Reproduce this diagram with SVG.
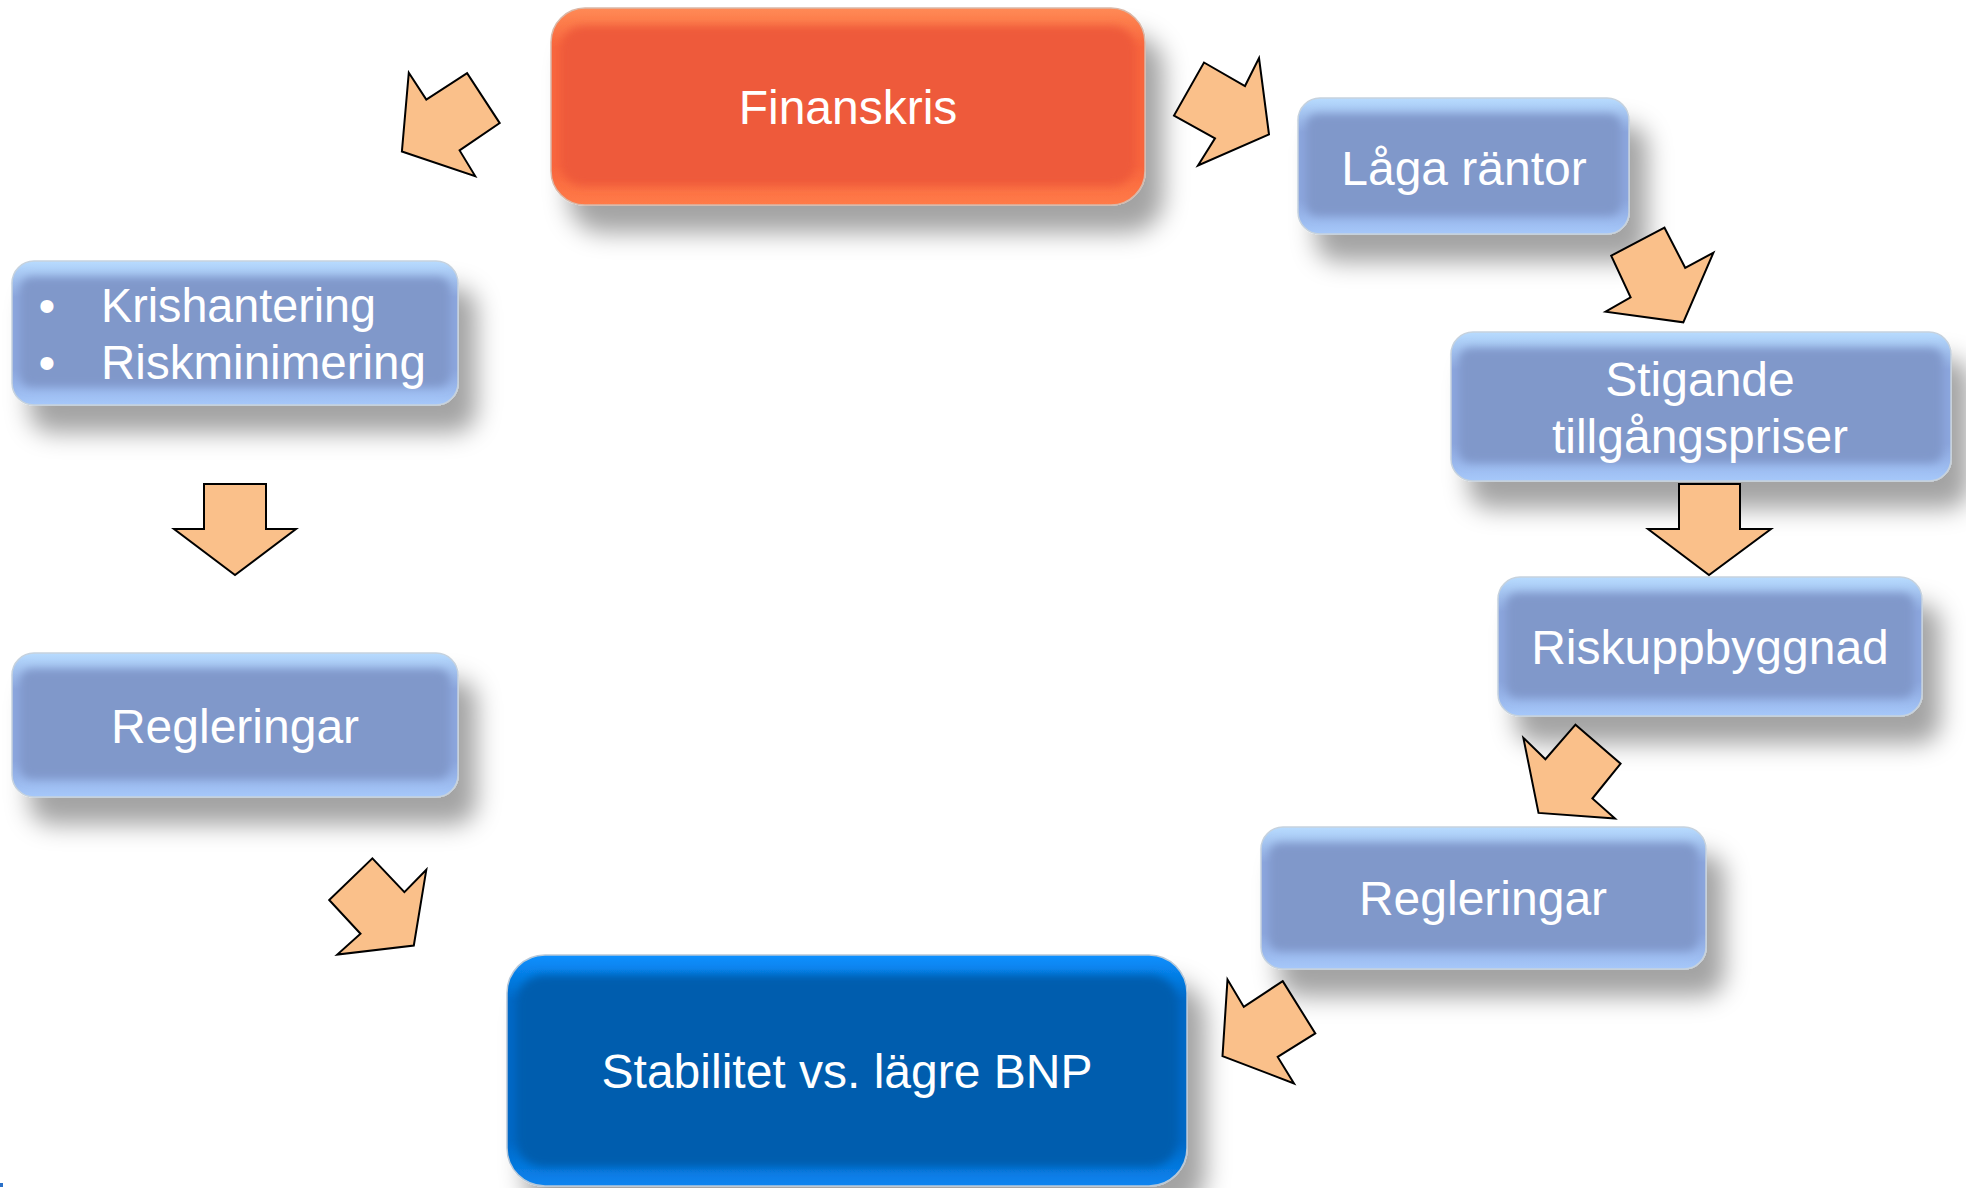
<svg xmlns="http://www.w3.org/2000/svg" width="1966" height="1188" viewBox="0 0 1966 1188">
<style>
  .lbl { font-family: "Liberation Sans", Arial, sans-serif; font-size: 48px; fill: #ffffff; }
  .mid { text-anchor: middle; }
  .arrow { fill: #FAC08A; stroke: #000000; stroke-width: 2; stroke-linejoin: miter; }
  .bluebase { fill: url(#blueEdge); stroke: #c6d2de; stroke-width: 1.5; }
  .bluein { fill: #8098CA; filter: url(#soft); }
  .redbase { fill: url(#redEdge); stroke: #d9b8a8; stroke-width: 1.5; }
  .redin { fill: #EE5A3A; filter: url(#soft); }
  .dkbase { fill: url(#dkEdge); stroke: #b8c8d8; stroke-width: 1.5; }
  .dkin { fill: #005DAE; filter: url(#soft); }
</style>
<defs>
  <filter id="shadow" x="-20%" y="-30%" width="150%" height="180%">
    <feDropShadow dx="18" dy="27" stdDeviation="12" flood-color="#000000" flood-opacity="0.36"/>
  </filter>
  <filter id="soft" x="-10%" y="-10%" width="120%" height="120%">
    <feGaussianBlur stdDeviation="4"/>
  </filter>
  <linearGradient id="blueEdge" x1="0" y1="0" x2="0" y2="1">
    <stop offset="0" stop-color="#B8DCFF"/>
    <stop offset="0.25" stop-color="#8CA6DE"/>
    <stop offset="0.75" stop-color="#8CA6DE"/>
    <stop offset="1" stop-color="#A6C8FA"/>
  </linearGradient>
  <linearGradient id="redEdge" x1="0" y1="0" x2="0" y2="1">
    <stop offset="0" stop-color="#FF8A55"/>
    <stop offset="0.2" stop-color="#F8653D"/>
    <stop offset="0.8" stop-color="#F8653D"/>
    <stop offset="1" stop-color="#FF7B48"/>
  </linearGradient>
  <linearGradient id="dkEdge" x1="0" y1="0" x2="0" y2="1">
    <stop offset="0" stop-color="#0A90FF"/>
    <stop offset="0.2" stop-color="#0068C6"/>
    <stop offset="0.8" stop-color="#0068C6"/>
    <stop offset="1" stop-color="#0A84F0"/>
  </linearGradient>
</defs>
<rect x="0" y="0" width="1966" height="1188" fill="#ffffff"/>

<g id="finanskris">
  <g filter="url(#shadow)"><rect class="redbase" x="551" y="8" width="594" height="197" rx="34"/></g>
  <rect class="redin" x="560" y="26" width="576" height="160" rx="24"/>
  <text class="lbl mid" x="848" y="124">Finanskris</text>
</g>

<g id="laga-rantor">
  <g filter="url(#shadow)"><rect class="bluebase" x="1298" y="98" width="331" height="136" rx="22"/></g>
  <rect class="bluein" x="1306" y="114" width="315" height="102" rx="12"/>
  <text class="lbl mid" x="1464" y="185">Låga räntor</text>
</g>

<g id="stigande">
  <g filter="url(#shadow)"><rect class="bluebase" x="1451" y="332" width="500" height="149" rx="22"/></g>
  <rect class="bluein" x="1459" y="348" width="484" height="115" rx="12"/>
  <text class="lbl mid" x="1700" y="396">Stigande</text>
  <text class="lbl mid" x="1700" y="453">tillgångspriser</text>
</g>

<g id="riskuppbyggnad">
  <g filter="url(#shadow)"><rect class="bluebase" x="1498" y="577" width="424" height="139" rx="22"/></g>
  <rect class="bluein" x="1506" y="593" width="408" height="105" rx="12"/>
  <text class="lbl mid" x="1710" y="664">Riskuppbyggnad</text>
</g>

<g id="regleringar-right">
  <g filter="url(#shadow)"><rect class="bluebase" x="1261" y="827" width="445" height="142" rx="22"/></g>
  <rect class="bluein" x="1269" y="843" width="429" height="108" rx="12"/>
  <text class="lbl mid" x="1483" y="915">Regleringar</text>
</g>

<g id="stabilitet">
  <g filter="url(#shadow)"><rect class="dkbase" x="507" y="955" width="680" height="231" rx="38"/></g>
  <rect class="dkin" x="516" y="975" width="662" height="192" rx="28"/>
  <text class="lbl mid" x="847" y="1088">Stabilitet vs. lägre BNP</text>
</g>

<g id="regleringar-left">
  <g filter="url(#shadow)"><rect class="bluebase" x="12" y="653" width="446" height="144" rx="22"/></g>
  <rect class="bluein" x="20" y="669" width="430" height="110" rx="12"/>
  <text class="lbl mid" x="235" y="743">Regleringar</text>
</g>

<g id="krishantering">
  <g filter="url(#shadow)"><rect class="bluebase" x="12" y="261" width="446" height="144" rx="22"/></g>
  <rect class="bluein" x="20" y="277" width="430" height="110" rx="12"/>
  <text class="lbl mid" x="47" y="322">•</text>
  <text class="lbl" x="101" y="322" textLength="275" lengthAdjust="spacingAndGlyphs">Krishantering</text>
  <text class="lbl mid" x="47" y="379">•</text>
  <text class="lbl" x="101" y="379" textLength="325" lengthAdjust="spacingAndGlyphs">Riskminimering</text>
</g>

<g id="connectors">
  <polygon class="arrow" points="1259,58 1269,134.5 1198,165.5 1215,138.3 1174,115.5 1204,62.5 1245,86"/>
  <polygon class="arrow" points="1664.5,227.7 1685.2,267.8 1713.4,252.7 1683.3,322.3 1605.6,311.7 1630.6,297.3 1611.2,255.7"/>
  <polygon class="arrow" points="1679,484 1740,484 1740,529 1771,529 1709,575 1648,529 1679,529"/>
  <polygon class="arrow" points="1575.5,724.7 1620.6,763.7 1592.4,798.5 1615,818.6 1538.5,812.9 1523.4,737.9 1545.4,759.2"/>
  <polygon class="arrow" points="1282.7,981.1 1315.3,1033.4 1277.7,1056.9 1294,1083.4 1222.5,1056.1 1227.5,979.6 1243.8,1006.9"/>
  <polygon class="arrow" points="372.4,858.4 404.4,892.1 426.3,869.8 413.8,945.5 337.3,954.6 360.5,933.8 329.2,900"/>
  <polygon class="arrow" points="204,484 266,484 266,529 296,529 235,575 174,529 204,529"/>
  <polygon class="arrow" points="408.8,72.7 426.3,99.6 467.1,73.1 499.7,123.1 459.6,150.4 475.2,176.1 401.9,151.5"/>
</g>

<rect x="0" y="1183" width="3" height="4" fill="#2a70c8"/>
</svg>
